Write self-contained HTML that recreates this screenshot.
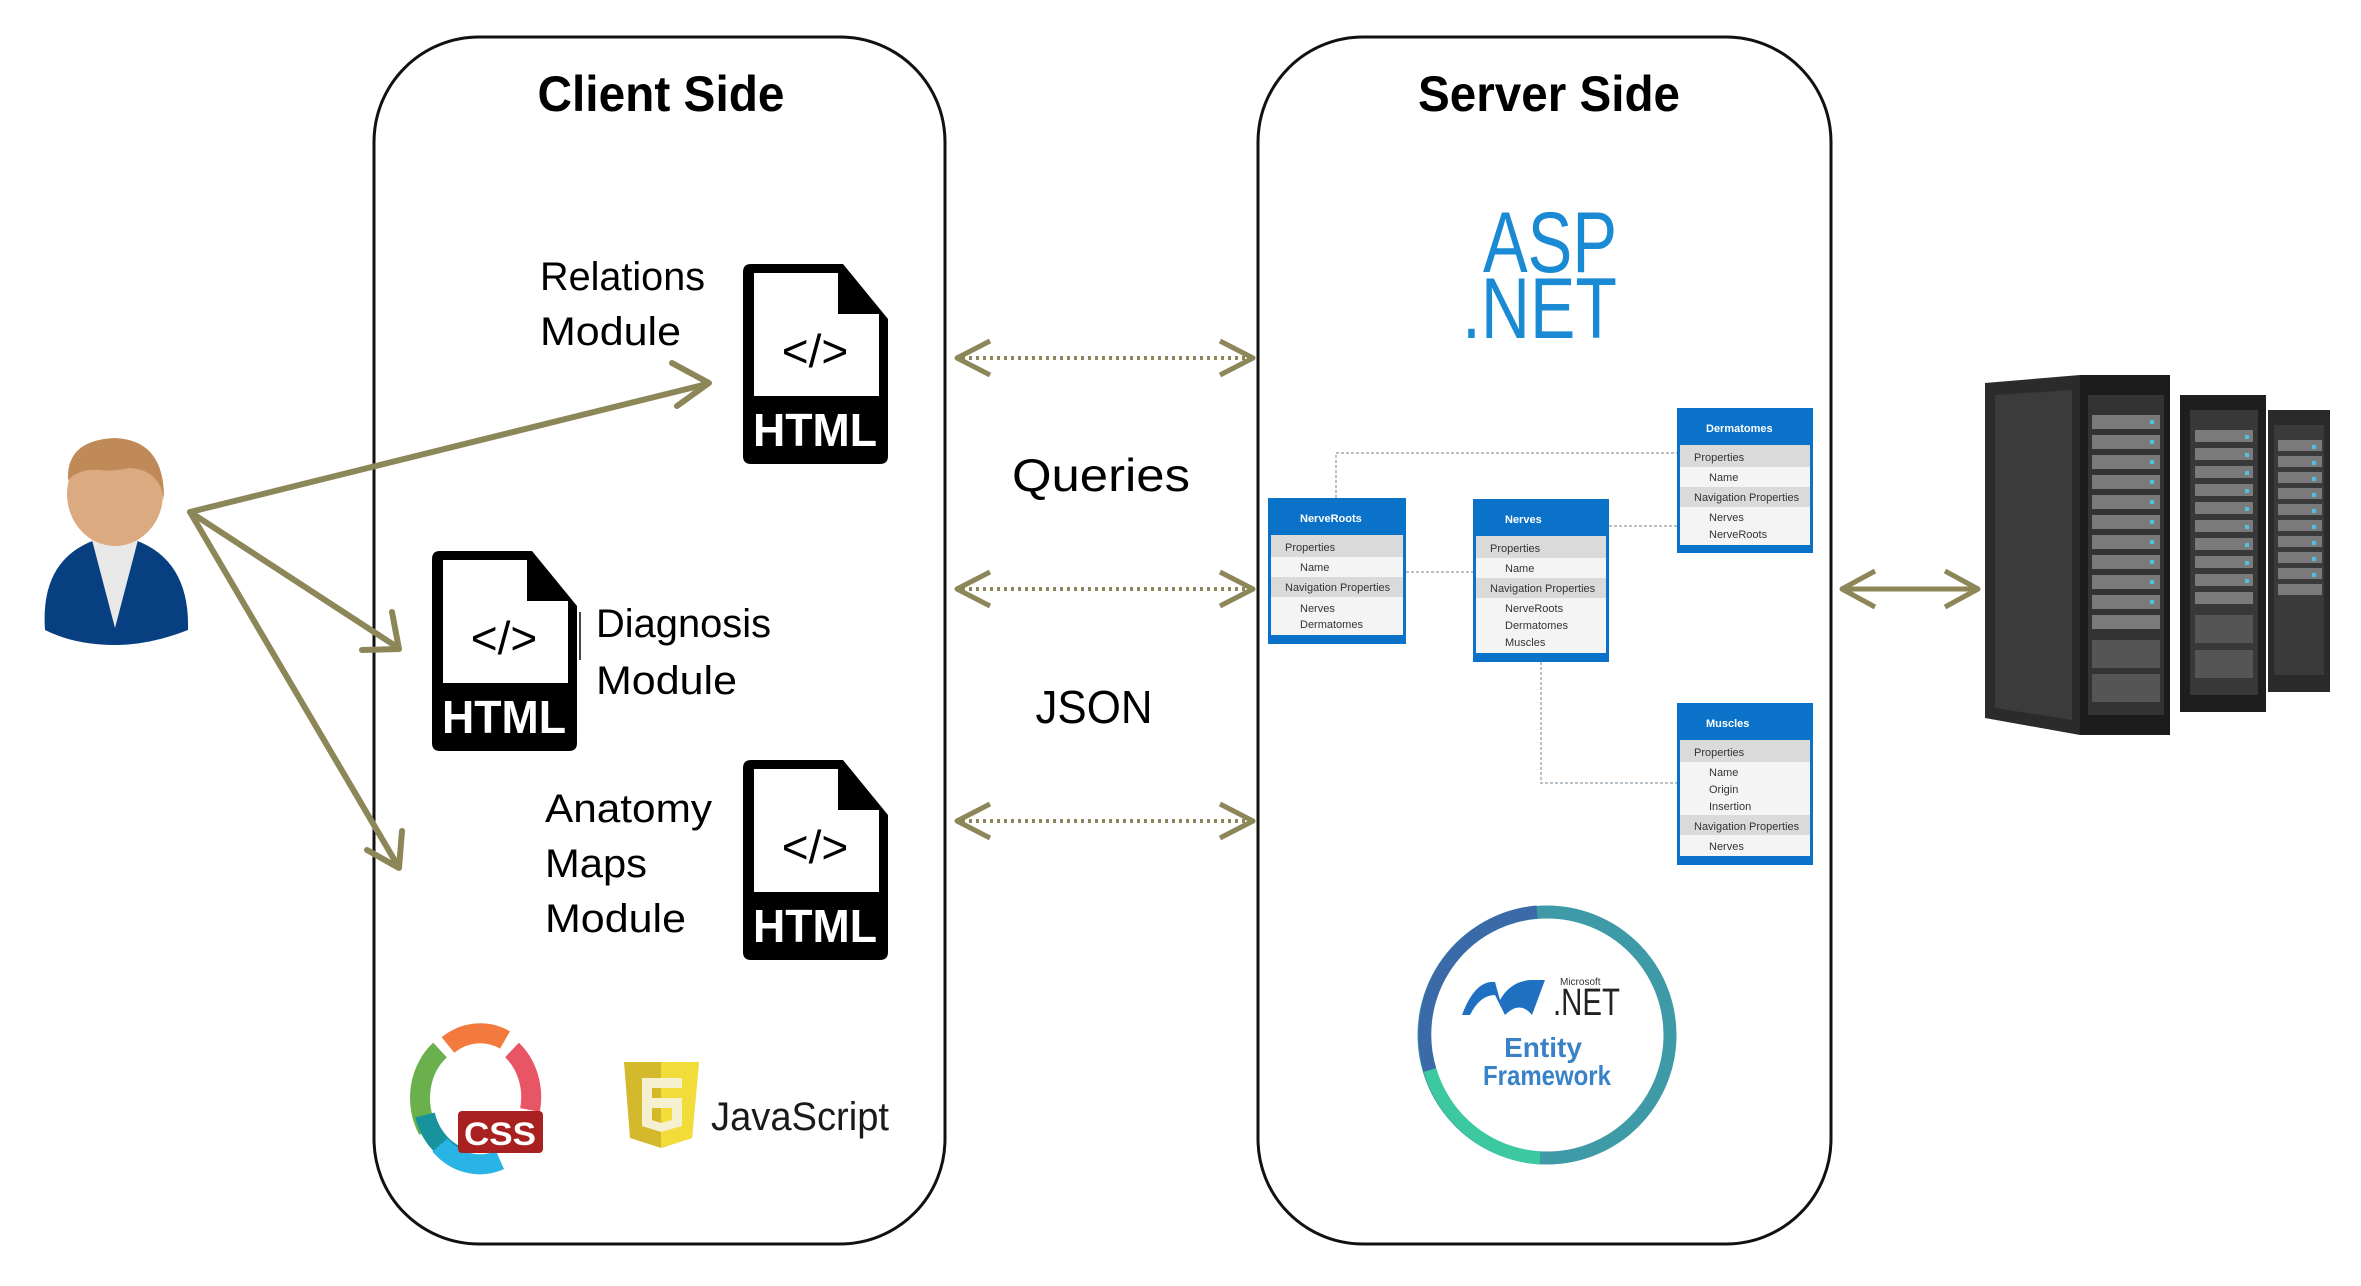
<!DOCTYPE html>
<html><head><meta charset="utf-8"><style>
html,body{margin:0;padding:0;background:#fff;}
svg{display:block;}
text{font-family:"Liberation Sans",sans-serif;}
</style></head><body>
<svg width="2361" height="1286" viewBox="0 0 2361 1286" xmlns="http://www.w3.org/2000/svg">
<rect x="0" y="0" width="2361" height="1286" fill="#fff"/>

<rect x="374" y="37" width="571" height="1207" rx="105" ry="105" fill="none" stroke="#111" stroke-width="3"/>
<rect x="1258" y="37" width="573" height="1207" rx="105" ry="105" fill="none" stroke="#111" stroke-width="3"/>
<text x="661" y="111" font-size="50" font-weight="bold" text-anchor="middle" textLength="247" lengthAdjust="spacingAndGlyphs">Client Side</text>
<text x="1549" y="111" font-size="50" font-weight="bold" text-anchor="middle" textLength="262" lengthAdjust="spacingAndGlyphs">Server Side</text>

<g>
<path d="M45,630 Q40,560 95,540 L135,540 Q190,560 188,630 Q150,645 115,645 Q75,645 45,630Z" fill="#073f80"/>
<path d="M92,540 L115,628 L138,540Z" fill="#e8e8e8"/>
<ellipse cx="115" cy="494" rx="48" ry="52" fill="#dcaa80"/>
<path d="M68,480 Q66,440 115,438 Q165,440 164,500 Q160,470 130,468 Q110,472 100,470 Q80,468 68,480Z" fill="#c08a58"/>
</g>

<g stroke="#8c8659" stroke-width="6" fill="none" stroke-linecap="round" stroke-linejoin="round">
<line x1="190" y1="512" x2="707" y2="384"/>
<polyline points="672,363 709,383 677,406"/>
<line x1="190" y1="512" x2="397" y2="647"/>
<polyline points="392,612 399,649 362,650"/>
<line x1="190" y1="512" x2="398" y2="866"/>
<polyline points="402,831 399,868 367,850"/>
</g>

<g transform="translate(743,264)">
<path d="M8,0 H100 L145,55 V192 Q145,200 137,200 H8 Q0,200 0,192 V8 Q0,0 8,0Z" fill="#000"/>
<path d="M11,9 H95 V50 H136 V132 H11Z" fill="#fff"/>
<text x="72" y="103" font-size="46" text-anchor="middle">&lt;/&gt;</text>
<text x="72" y="182" font-size="46" font-weight="bold" fill="#fff" text-anchor="middle" textLength="124" lengthAdjust="spacingAndGlyphs">HTML</text>
</g>
<g transform="translate(432,551)">
<path d="M8,0 H100 L145,55 V192 Q145,200 137,200 H8 Q0,200 0,192 V8 Q0,0 8,0Z" fill="#000"/>
<path d="M11,9 H95 V50 H136 V132 H11Z" fill="#fff"/>
<text x="72" y="103" font-size="46" text-anchor="middle">&lt;/&gt;</text>
<text x="72" y="182" font-size="46" font-weight="bold" fill="#fff" text-anchor="middle" textLength="124" lengthAdjust="spacingAndGlyphs">HTML</text>
</g>
<line x1="580" y1="612" x2="580" y2="660" stroke="#444" stroke-width="2"/>
<g transform="translate(743,760)">
<path d="M8,0 H100 L145,55 V192 Q145,200 137,200 H8 Q0,200 0,192 V8 Q0,0 8,0Z" fill="#000"/>
<path d="M11,9 H95 V50 H136 V132 H11Z" fill="#fff"/>
<text x="72" y="103" font-size="46" text-anchor="middle">&lt;/&gt;</text>
<text x="72" y="182" font-size="46" font-weight="bold" fill="#fff" text-anchor="middle" textLength="124" lengthAdjust="spacingAndGlyphs">HTML</text>
</g>

<g font-size="40" fill="#000">
<text x="540" y="290" textLength="165" lengthAdjust="spacingAndGlyphs">Relations</text>
<text x="540" y="345" textLength="141" lengthAdjust="spacingAndGlyphs">Module</text>
<text x="596" y="637" textLength="175" lengthAdjust="spacingAndGlyphs">Diagnosis</text>
<text x="596" y="694" textLength="141" lengthAdjust="spacingAndGlyphs">Module</text>
<text x="545" y="822" textLength="167" lengthAdjust="spacingAndGlyphs">Anatomy</text>
<text x="545" y="877" textLength="102" lengthAdjust="spacingAndGlyphs">Maps</text>
<text x="545" y="932" textLength="141" lengthAdjust="spacingAndGlyphs">Module</text>
</g>

<!-- CSS logo -->
<g fill="none" stroke-width="20">
<path d="M428,1130 A55,62 0 0 1 440,1050" stroke="#6ab04c"/>
<path d="M448,1045 A55,62 0 0 1 505,1040" stroke="#f27a3d"/>
<path d="M512,1050 A55,62 0 0 1 530,1110" stroke="#e85565"/>
<path d="M425,1115 A55,62 0 0 0 470,1160" stroke="#16939c"/>
<path d="M440,1145 A55,62 0 0 0 500,1160" stroke="#29b4e6"/>
</g>
<rect x="458" y="1111" width="85" height="42" rx="4" fill="#a8201f"/>
<text x="500" y="1145" font-size="32" font-weight="bold" fill="#fff" text-anchor="middle" textLength="72" lengthAdjust="spacingAndGlyphs">CSS</text>

<g>
<path d="M624,1062 H699 L692,1138 L661,1148 L630,1138Z" fill="#d4b92c"/>
<path d="M661,1062 H699 L692,1138 L661,1148Z" fill="#f2dc3a"/>
<path d="M642,1078 H682 V1088 H652 V1098 H682 V1126 L661,1132 L642,1126Z M652,1108 V1120 L661,1123 L672,1120 V1108Z" fill="#f5f0d0" fill-rule="evenodd"/>
<text x="711" y="1130" font-size="40" fill="#1a1a1a" textLength="178" lengthAdjust="spacingAndGlyphs">JavaScript</text>
</g>

<g stroke="#8c8659" stroke-width="4" fill="none">
<line x1="962" y1="358" x2="1246" y2="358" stroke-dasharray="3,4"/>
<line x1="962" y1="589" x2="1246" y2="589" stroke-dasharray="3,4"/>
<line x1="962" y1="821" x2="1246" y2="821" stroke-dasharray="3,4"/>
<g stroke-width="5" stroke-linejoin="round">
<polyline points="990,341 957,358 990,375"/><polyline points="1220,341 1253,358 1220,375"/>
<polyline points="990,572 957,589 990,606"/><polyline points="1220,572 1253,589 1220,606"/>
<polyline points="990,804 957,821 990,838"/><polyline points="1220,804 1253,821 1220,838"/>
</g>
</g>
<text x="1101" y="491" font-size="46" text-anchor="middle" textLength="178" lengthAdjust="spacingAndGlyphs">Queries</text>
<text x="1094" y="723" font-size="46" text-anchor="middle" textLength="117" lengthAdjust="spacingAndGlyphs">JSON</text>

<text x="1483" y="272" font-size="86" fill="#1a8ad4" textLength="134" lengthAdjust="spacingAndGlyphs">ASP</text>
<text x="1462" y="338" font-size="86" fill="#1a8ad4" textLength="155" lengthAdjust="spacingAndGlyphs">.NET</text>

<g stroke="#b8c0c8" stroke-width="2" fill="none" stroke-dasharray="3,2">
<polyline points="1336,498 1336,453 1677,453"/>
<line x1="1609" y1="526" x2="1677" y2="526"/>
<line x1="1406" y1="572" x2="1473" y2="572"/>
<polyline points="1541,662 1541,783 1677,783"/>
</g>

<g font-size="11" fill="#333">
<rect x="1268" y="498" width="138" height="146" fill="#0a72c8"/>
<rect x="1271" y="535" width="132" height="100" fill="#f4f4f4"/>
<rect x="1271" y="535" width="132" height="22" fill="#dadada"/>
<rect x="1271" y="577" width="132" height="20" fill="#dadada"/>
<text x="1300" y="522" fill="#fff" font-weight="bold">NerveRoots</text>
<text x="1285" y="551">Properties</text><text x="1300" y="571">Name</text>
<text x="1285" y="591">Navigation Properties</text>
<text x="1300" y="612">Nerves</text><text x="1300" y="628">Dermatomes</text>
<rect x="1473" y="499" width="136" height="163" fill="#0a72c8"/>
<rect x="1476" y="536" width="130" height="117" fill="#f4f4f4"/>
<rect x="1476" y="536" width="130" height="22" fill="#dadada"/>
<rect x="1476" y="578" width="130" height="20" fill="#dadada"/>
<text x="1505" y="523" fill="#fff" font-weight="bold">Nerves</text>
<text x="1490" y="552">Properties</text><text x="1505" y="572">Name</text>
<text x="1490" y="592">Navigation Properties</text>
<text x="1505" y="612">NerveRoots</text><text x="1505" y="629">Dermatomes</text><text x="1505" y="646">Muscles</text>
<rect x="1677" y="408" width="136" height="145" fill="#0a72c8"/>
<rect x="1680" y="445" width="130" height="100" fill="#f4f4f4"/>
<rect x="1680" y="445" width="130" height="22" fill="#dadada"/>
<rect x="1680" y="487" width="130" height="20" fill="#dadada"/>
<text x="1706" y="432" fill="#fff" font-weight="bold">Dermatomes</text>
<text x="1694" y="461">Properties</text><text x="1709" y="481">Name</text>
<text x="1694" y="501">Navigation Properties</text>
<text x="1709" y="521">Nerves</text><text x="1709" y="538">NerveRoots</text>
<rect x="1677" y="703" width="136" height="162" fill="#0a72c8"/>
<rect x="1680" y="740" width="130" height="116" fill="#f4f4f4"/>
<rect x="1680" y="740" width="130" height="22" fill="#dadada"/>
<rect x="1680" y="815" width="130" height="20" fill="#dadada"/>
<text x="1706" y="727" fill="#fff" font-weight="bold">Muscles</text>
<text x="1694" y="756">Properties</text><text x="1709" y="776">Name</text><text x="1709" y="793">Origin</text><text x="1709" y="810">Insertion</text>
<text x="1694" y="830">Navigation Properties</text>
<text x="1709" y="850">Nerves</text>
</g>

<g fill="none" stroke-width="13">
<circle cx="1547" cy="1035" r="123" stroke="#3d9aa6"/>
<path d="M1430,1070 A123,123 0 0 1 1537,912" stroke="#3a6aa8"/>
<path d="M1540,1158 A123,123 0 0 1 1430,1070" stroke="#3cc9a0"/>
</g>
<path d="M1462,1015 Q1475,980 1495,982 L1500,1000 Q1510,982 1530,980 L1545,980 L1532,1015 Q1520,1000 1505,1015 L1495,995 Q1480,995 1470,1015Z" fill="#1f70c0"/>
<text x="1553" y="1015" font-size="38" fill="#222" textLength="67" lengthAdjust="spacingAndGlyphs">.NET</text>
<text x="1560" y="985" font-size="10" fill="#333">Microsoft</text>
<text x="1543" y="1057" font-size="28" font-weight="bold" fill="#3a82c8" text-anchor="middle">Entity</text>
<text x="1547" y="1085" font-size="28" font-weight="bold" fill="#3a82c8" text-anchor="middle" textLength="128" lengthAdjust="spacingAndGlyphs">Framework</text>

<g stroke="#8c8659" stroke-width="5" fill="none" stroke-linejoin="round">
<line x1="1842" y1="589" x2="1978" y2="589"/>
<polyline points="1875,571 1842,589 1875,607"/>
<polyline points="1945,571 1978,589 1945,607"/>
</g>

<g>
<rect x="2268" y="410" width="62" height="282" fill="#2a2a2a"/>
<rect x="2274" y="425" width="50" height="250" fill="#3a3a3a"/>
<rect x="2180" y="395" width="86" height="317" fill="#1e1e1e"/>
<rect x="2190" y="410" width="68" height="285" fill="#383838"/>
<path d="M1985,383 L2080,375 L2080,735 L1985,718Z" fill="#2b2b2b"/>
<path d="M1995,395 L2072,390 L2072,720 L1995,708Z" fill="#3b3b3b"/>
<rect x="2080" y="375" width="90" height="360" fill="#1c1c1c"/>
<rect x="2088" y="395" width="76" height="320" fill="#333"/>
<g fill="#7a7a7a">
<rect x="2092" y="415" width="68" height="14"/><rect x="2092" y="435" width="68" height="14"/><rect x="2092" y="455" width="68" height="14"/><rect x="2092" y="475" width="68" height="14"/><rect x="2092" y="495" width="68" height="14"/><rect x="2092" y="515" width="68" height="14"/><rect x="2092" y="535" width="68" height="14"/><rect x="2092" y="555" width="68" height="14"/><rect x="2092" y="575" width="68" height="14"/><rect x="2092" y="595" width="68" height="14"/><rect x="2092" y="615" width="68" height="14"/>
<rect x="2092" y="640" width="68" height="28" fill="#555"/><rect x="2092" y="674" width="68" height="28" fill="#555"/>
<rect x="2195" y="430" width="58" height="12"/><rect x="2195" y="448" width="58" height="12"/><rect x="2195" y="466" width="58" height="12"/><rect x="2195" y="484" width="58" height="12"/><rect x="2195" y="502" width="58" height="12"/><rect x="2195" y="520" width="58" height="12"/><rect x="2195" y="538" width="58" height="12"/><rect x="2195" y="556" width="58" height="12"/><rect x="2195" y="574" width="58" height="12"/><rect x="2195" y="592" width="58" height="12"/>
<rect x="2195" y="615" width="58" height="28" fill="#555"/><rect x="2195" y="650" width="58" height="28" fill="#555"/>
<rect x="2278" y="440" width="44" height="11"/><rect x="2278" y="456" width="44" height="11"/><rect x="2278" y="472" width="44" height="11"/><rect x="2278" y="488" width="44" height="11"/><rect x="2278" y="504" width="44" height="11"/><rect x="2278" y="520" width="44" height="11"/><rect x="2278" y="536" width="44" height="11"/><rect x="2278" y="552" width="44" height="11"/><rect x="2278" y="568" width="44" height="11"/><rect x="2278" y="584" width="44" height="11"/>
</g>
<g fill="#4cc4e0">
<rect x="2150" y="420" width="4" height="4"/><rect x="2150" y="440" width="4" height="4"/><rect x="2150" y="460" width="4" height="4"/><rect x="2150" y="480" width="4" height="4"/><rect x="2150" y="500" width="4" height="4"/><rect x="2150" y="520" width="4" height="4"/><rect x="2150" y="540" width="4" height="4"/><rect x="2150" y="560" width="4" height="4"/><rect x="2150" y="580" width="4" height="4"/><rect x="2150" y="600" width="4" height="4"/>
<rect x="2245" y="435" width="4" height="4"/><rect x="2245" y="453" width="4" height="4"/><rect x="2245" y="471" width="4" height="4"/><rect x="2245" y="489" width="4" height="4"/><rect x="2245" y="507" width="4" height="4"/><rect x="2245" y="525" width="4" height="4"/><rect x="2245" y="543" width="4" height="4"/><rect x="2245" y="561" width="4" height="4"/><rect x="2245" y="579" width="4" height="4"/>
<rect x="2312" y="445" width="4" height="4"/><rect x="2312" y="461" width="4" height="4"/><rect x="2312" y="477" width="4" height="4"/><rect x="2312" y="493" width="4" height="4"/><rect x="2312" y="509" width="4" height="4"/><rect x="2312" y="525" width="4" height="4"/><rect x="2312" y="541" width="4" height="4"/><rect x="2312" y="557" width="4" height="4"/><rect x="2312" y="573" width="4" height="4"/>
</g>
</g>
</svg>
</body></html>
